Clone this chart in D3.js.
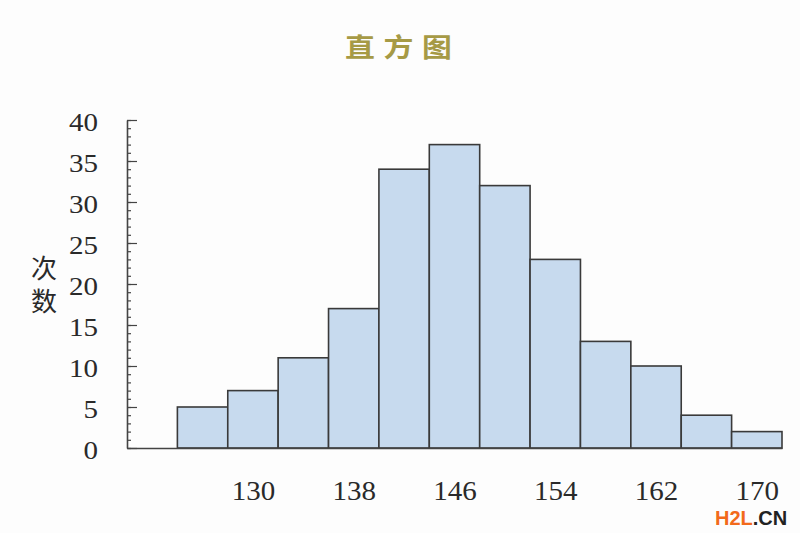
<!DOCTYPE html>
<html><head><meta charset="utf-8">
<script src="https://cdn.jsdelivr.net/npm/d3@7"></script>
<style>body{margin:0;background:#fdfdfd;} svg{display:block;}</style>
</head><body>
<svg id="c" width="800" height="533"></svg>
<script>
// Data
const binStarts = [124,128,132,136,140,144,148,152,156,160,164,168];
const counts    = [5,7,11,17,34,37,32,23,13,10,4,2];
const binWidth = 4;
const xTickLabels = [130,138,146,154,162,170];
const yMajorTicks = [0,5,10,15,20,25,30,35,40];
const yMinorTicks = d3.range(0,41,1);
const title = "直方图";
const yTitle = "次数";

const svg = d3.select("#c");
svg.append("rect").attr("width",800).attr("height",533).attr("fill","#fdfdfd");

const x = d3.scaleLinear().domain([120,172]).range([127,782]);
const y = d3.scaleLinear().domain([0,40]).range([448,120]);

// bars
svg.append("g").selectAll("rect").data(binStarts).join("rect")
  .attr("x", d=>x(d)).attr("width", d=>x(d+binWidth)-x(d))
  .attr("y", (d,i)=>y(counts[i])).attr("height",(d,i)=>y(0)-y(counts[i]))
  .attr("fill","#c7daee").attr("stroke","#3a3a3a").attr("stroke-width",1.6);

// y axis minor ticks
const yMinor = svg.append("g").attr("transform","translate(127,0)")
  .call(d3.axisLeft(y).tickValues(yMinorTicks).tickSizeInner(-4).tickSizeOuter(0).tickFormat(""));
yMinor.select(".domain").remove();
yMinor.selectAll("line").attr("stroke","#444").attr("stroke-width",1.2);

// y axis major
const yAx = svg.append("g").attr("transform","translate(127,0)")
  .call(d3.axisLeft(y).tickValues(yMajorTicks).tickSizeInner(-10).tickSizeOuter(0).tickPadding(29));
yAx.select(".domain").attr("stroke","#444").attr("stroke-width",1.6);
yAx.selectAll("line").attr("stroke","#444").attr("stroke-width",1.2);
yAx.selectAll("text").attr("font-family","'Liberation Serif',serif").attr("font-size",25)
  .attr("fill","#2a2a2a").attr("dy","0.42em")
  .attr("textLength", d=>String(d).length*14.5).attr("lengthAdjust","spacingAndGlyphs");

// x axis
const xAx = svg.append("g").attr("transform","translate(0,448)")
  .call(d3.axisBottom(x).tickValues(xTickLabels).tickSize(0).tickPadding(33));
xAx.select(".domain").attr("stroke","#444").attr("stroke-width",1.6);
xAx.selectAll("text").attr("font-family","'Liberation Serif',serif").attr("font-size",27)
  .attr("fill","#2a2a2a")
  .attr("textLength", d=>String(d).length*14.5).attr("lengthAdjust","spacingAndGlyphs");

// y title (vertical)
svg.append("text").attr("x",44).attr("y",255)
  .attr("writing-mode","vertical-rl").attr("letter-spacing",7)
  .attr("font-family","'Noto Sans CJK SC',sans-serif").attr("font-size",26)
  .attr("fill","#2a2a2a").text(yTitle);

// title
svg.append("text").attr("transform","translate(345,57) scale(1.15,1)")
  .attr("font-family","'Noto Sans CJK SC',sans-serif").attr("font-weight","bold")
  .attr("font-size",26).attr("textLength",93).attr("lengthAdjust","spacing")
  .attr("fill","#a69a45").text(title);

// watermark
const wm = svg.append("text").attr("x",715).attr("y",525)
  .attr("font-family","'Liberation Sans',Arial,sans-serif").attr("font-weight","bold").attr("font-size",20);
wm.append("tspan").attr("fill","#f26a1b").text("H2L");
wm.append("tspan").attr("fill","#222").text(".CN");
</script>
</body></html>
